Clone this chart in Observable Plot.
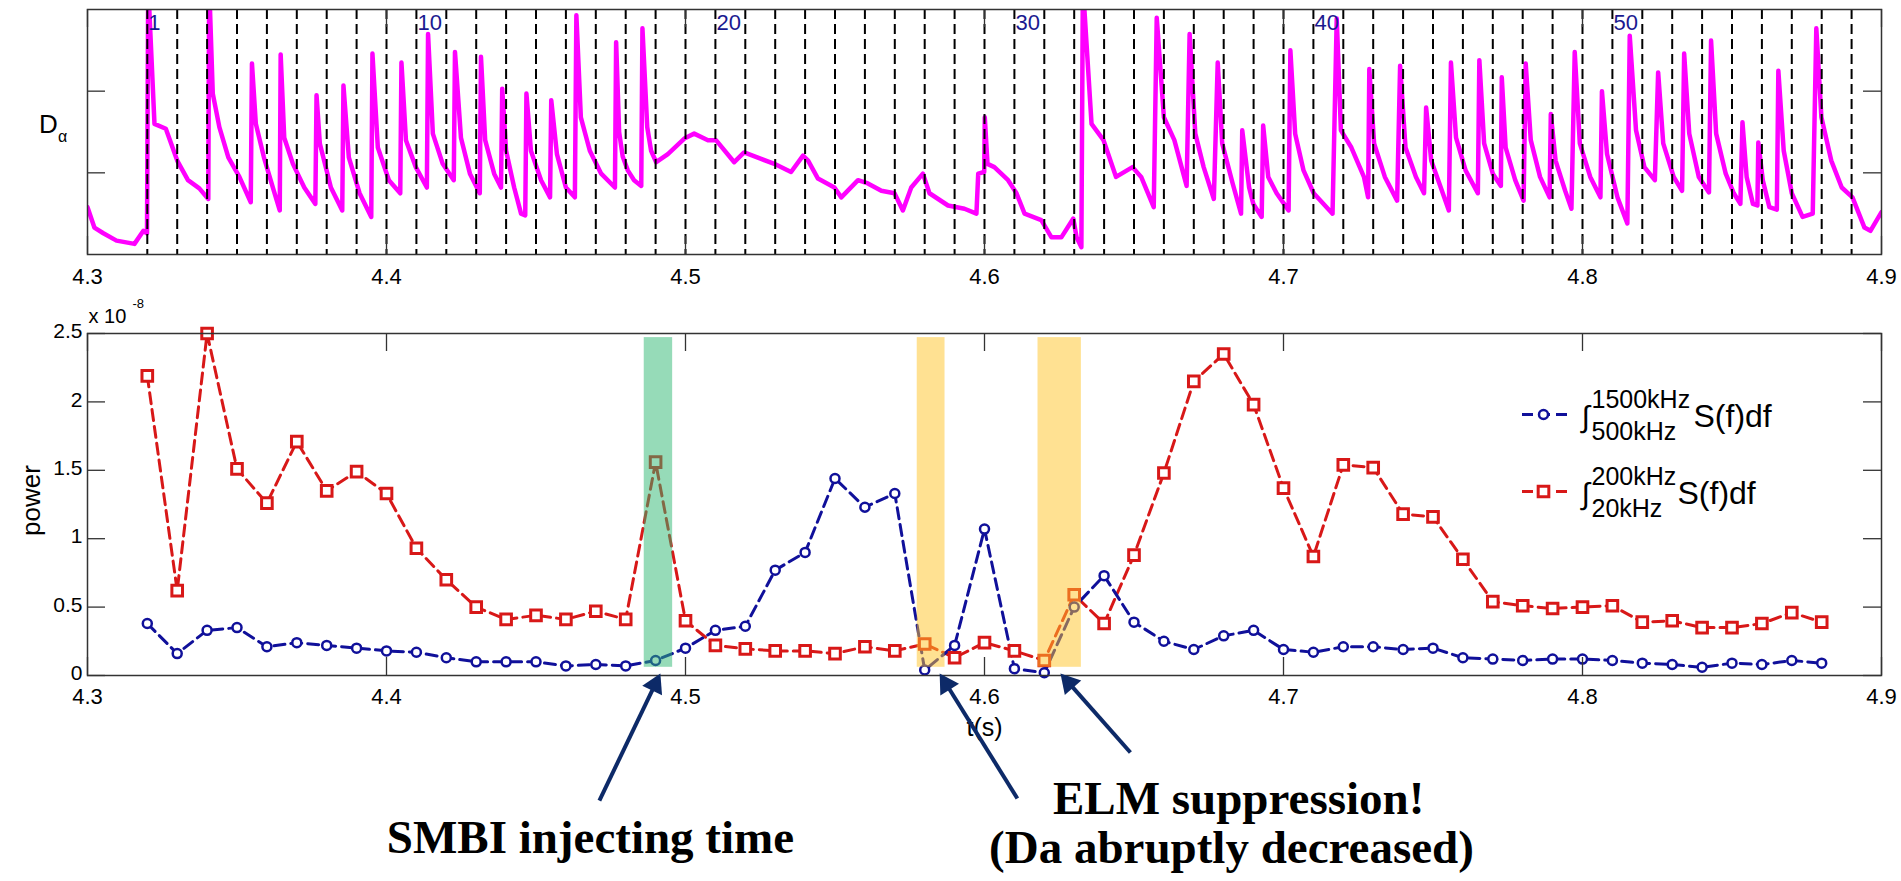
<!DOCTYPE html>
<html><head><meta charset="utf-8">
<script src="https://cdn.jsdelivr.net/npm/d3@7"></script>
<script src="https://cdn.jsdelivr.net/npm/@observablehq/plot@0.6"></script>
<style>
html,body{margin:0;padding:0;background:#fff;}
#chart{width:1901px;height:881px;overflow:hidden;background:#fff;}
#chart svg{display:block;}
</style></head><body><div id="chart"></div>
<script>
// ---------------- data ----------------
const xTicks = [4.3, 4.4, 4.5, 4.6, 4.7, 4.8, 4.9];
const daYTicks = [1, 2];
const powerYTicks = [0, 0.5, 1, 1.5, 2, 2.5];

// D-alpha trace (time s, arbitrary units)
const daT = [4.3000,4.3023,4.3053,4.3097,4.3157,4.3187,4.3199,4.3203,4.3224,4.3262,4.3300,4.3336,4.3374,4.3404,4.3407,4.3419,4.3441,4.3471,4.3508,4.3546,
4.3550,4.3563,4.3590,4.3620,4.3643,4.3646,4.3658,4.3687,4.3725,4.3762,4.3766,4.3777,4.3814,4.3852,4.3856,4.3874,4.3910,4.3949,4.3953,4.3971,
4.4008,4.4046,4.4050,4.4065,4.4098,4.4135,4.4139,4.4155,4.4188,4.4225,4.4229,4.4249,4.4279,4.4312,4.4316,4.4330,4.4360,4.4383,4.4387,4.4400,
4.4427,4.4450,4.4464,4.4468,4.4483,4.4517,4.4547,4.4551,4.4570,4.4600,4.4630,4.4635,4.4650,4.4680,4.4718,4.4764,4.4768,4.4778,4.4790,4.4807,
4.4828,4.4852,4.4856,4.4872,4.4885,4.4902,4.4941,4.4996,4.5029,4.5075,4.5102,4.5163,4.5196,4.5253,4.5297,4.5353,4.5393,4.5410,4.5443,4.5498,
4.5521,4.5577,4.5610,4.5655,4.5699,4.5727,4.5755,4.5794,4.5816,4.5878,4.5933,4.5973,4.5979,4.5999,4.6001,4.6010,4.6033,4.6079,4.6107,4.6134,
4.6190,4.6224,4.6257,4.6297,4.6308,4.6324,4.6329,4.6358,4.6398,4.6440,4.6495,4.6524,4.6566,4.6576,4.6600,4.6635,4.6676,4.6686,4.6705,4.6733,
4.6767,4.6780,4.6795,4.6830,4.6858,4.6862,4.6885,4.6899,4.6927,4.6932,4.6949,4.6977,4.7017,4.7023,4.7039,4.7067,4.7101,4.7164,4.7178,4.7192,
4.7227,4.7269,4.7283,4.7287,4.7303,4.7339,4.7380,4.7390,4.7408,4.7443,4.7470,4.7477,4.7494,4.7526,4.7553,4.7560,4.7577,4.7609,4.7650,4.7655,
4.7671,4.7700,4.7727,4.7730,4.7743,4.7775,4.7803,4.7810,4.7827,4.7858,4.7890,4.7894,4.7910,4.7942,4.7963,4.7974,4.7991,4.8026,4.8060,4.8065,
4.8082,4.8117,4.8150,4.8158,4.8179,4.8207,4.8242,4.8253,4.8270,4.8305,4.8333,4.8340,4.8357,4.8389,4.8423,4.8430,4.8447,4.8479,4.8506,4.8528,
4.8535,4.8549,4.8570,4.8585,4.8588,4.8603,4.8625,4.8650,4.8655,4.8673,4.8700,4.8736,4.8770,4.8782,4.8799,4.8832,4.8867,4.8903,4.8943,4.8963,
4.9000];
const daV = [0.58,0.33,0.26,0.17,0.13,0.29,0.26,3.30,1.60,1.54,1.15,0.91,0.81,0.68,3.30,1.97,1.56,1.19,0.95,0.64,
2.34,1.60,1.19,0.82,0.54,2.45,1.43,1.11,0.82,0.62,1.95,1.36,0.82,0.54,2.07,1.19,0.75,0.46,2.46,1.31,
0.91,0.75,2.35,1.40,1.07,0.82,2.70,1.48,1.11,0.91,2.48,1.43,0.99,0.75,2.42,1.40,0.99,0.82,2.03,1.27,
0.82,0.50,0.48,1.97,1.27,0.91,0.70,1.89,1.23,0.82,0.70,2.93,1.68,1.27,0.99,0.82,2.60,1.50,1.20,1.03,
0.91,0.84,2.77,1.56,1.27,1.13,1.23,1.42,1.48,1.40,1.40,1.13,1.25,1.17,1.11,1.01,1.21,1.15,0.93,0.82,
0.70,0.91,0.87,0.78,0.75,0.54,0.82,0.99,0.75,0.60,0.56,0.50,0.99,1.01,1.68,1.11,1.07,0.91,0.75,0.50,
0.42,0.21,0.21,0.44,0.21,0.09,3.30,1.60,1.40,0.95,1.07,0.95,0.58,2.90,1.68,1.40,0.84,2.70,1.48,1.07,
0.68,2.35,1.36,0.87,0.50,1.52,0.82,0.62,0.46,1.58,0.95,0.75,0.54,2.50,1.48,1.03,0.75,0.50,2.89,1.52,
1.31,0.95,0.70,2.27,1.36,0.95,0.66,2.31,1.31,0.95,0.75,1.80,1.15,0.82,0.54,2.35,1.43,1.03,0.75,2.38,
1.36,0.99,0.84,2.17,1.31,0.91,0.66,2.34,1.40,0.95,0.70,1.72,1.15,0.78,0.56,2.48,1.36,0.95,0.70,2.00,
1.23,0.70,0.38,2.68,1.52,1.07,0.91,2.23,1.36,0.95,0.78,2.46,1.48,0.95,0.76,2.62,1.48,0.99,0.75,0.62,
1.62,0.95,0.62,0.60,1.37,0.91,0.58,0.55,2.25,1.27,0.75,0.46,0.50,2.77,1.68,1.15,0.82,0.70,0.33,0.29,
0.52];

// ELM marker lines and their numbering
const elmLineT = [4.32,4.33,4.34,4.35,4.36,4.37,4.38,4.39,4.40,4.41,4.42,4.43,4.44,4.45,4.46,4.47,4.48,4.49,4.50,4.51,
4.52,4.53,4.54,4.55,4.56,4.57,4.58,4.59,4.60,4.61,4.62,4.63,4.64,4.65,4.66,4.67,4.68,4.69,4.70,4.71,
4.72,4.73,4.74,4.75,4.76,4.77,4.78,4.79,4.80,4.81,4.82,4.83,4.84,4.85,4.86,4.87,4.88,4.89];
const elmLabelN = [1, 10, 20, 30, 40, 50];
const elmLabelT = [4.32, 4.41, 4.51, 4.61, 4.71, 4.81];

// power spectra integrals (x 1e-8)
const powerT = [4.32,4.33,4.34,4.35,4.36,4.37,4.38,4.39,4.40,4.41,4.42,4.43,4.44,4.45,4.46,4.47,4.48,4.49,4.50,4.51,
4.52,4.53,4.54,4.55,4.56,4.57,4.58,4.59,4.60,4.61,4.62,4.63,4.64,4.65,4.66,4.67,4.68,4.69,4.70,4.71,
4.72,4.73,4.74,4.75,4.76,4.77,4.78,4.79,4.80,4.81,4.82,4.83,4.84,4.85,4.86,4.87,4.88];
const powerHigh = [0.38,0.16,0.33,0.35,0.21,0.24,0.22,0.20,0.18,0.17,0.13,0.10,0.10,0.10,0.07,0.08,0.07,0.11,0.20,0.33,
0.36,0.77,0.90,1.44,1.23,1.33,0.04,0.22,1.07,0.05,0.02,0.50,0.73,0.39,0.25,0.19,0.29,0.33,0.19,0.17,
0.21,0.21,0.19,0.20,0.13,0.12,0.11,0.12,0.12,0.11,0.09,0.08,0.06,0.09,0.08,0.11,0.09];
const powerLow = [2.19,0.62,2.50,1.51,1.26,1.71,1.35,1.49,1.33,0.93,0.70,0.50,0.41,0.44,0.41,0.47,0.41,1.56,0.40,0.22,
0.195,0.18,0.18,0.16,0.21,0.18,0.23,0.13,0.24,0.18,0.11,0.59,0.38,0.88,1.48,2.15,2.35,1.98,1.37,0.87,
1.54,1.52,1.18,1.16,0.85,0.54,0.51,0.49,0.50,0.51,0.39,0.40,0.35,0.35,0.38,0.46,0.39];

// highlighted time windows
const smbiSpan = [{t1: 4.4862, t2: 4.4957}];
const elmSpans = [{t1: 4.5775, t2: 4.5868}, {t1: 4.6179, t2: 4.6324}];
const spanV = [0.06, 2.47];

// legend
const legendSup = ["1500kHz", "200kHz"];
const legendSub = ["500kHz", "20kHz"];

// annotations (data space: time, power)
const arrowsData = [
  {t1: 4.4712, v1: -0.914, t2: 4.4916, v2: 0.015},
  {t1: 4.6110, v1: -0.899, t2: 4.5850, v2: 0.015},
  {t1: 4.6488, v1: -0.563, t2: 4.6254, v2: 0.015}
];
const notes = [
  {t: 4.4682, v: -1.301, label: "SMBI injecting time"},
  {t: 4.6850, v: -1.009, label: "ELM suppression!"},
  {t: 4.6826, v: -1.374, label: "(Da abruptly decreased)"}
];

// ---------------- build ----------------
const W = 1901, ML = 87, MR = 20;
const SANS = "'Liberation Sans', Arial, Helvetica, sans-serif";
const SERIF = "'Liberation Serif', 'Times New Roman', serif";
const MAG = "#ff00ff", BLUE = "#10109a", RED = "#d81818", NAVY = "#0d2a68", NUMC = "#1a1a90";
const FRAME = "#333";
const TICK = 18;
const fmt = d => String(d);

const da = daT.map((t, i) => ({t, v: daV[i]}));
const high = powerT.map((t, i) => ({t, v: powerHigh[i]}));
const low = powerT.map((t, i) => ({t, v: powerLow[i]}));
const elmLabels = elmLabelN.map((n, i) => ({n: String(n), t: elmLabelT[i]}));

function inwardTicks(xVals, yVals, yDom, frameH) {
  const ky = (yDom[1] - yDom[0]) / frameH * TICK;
  const kx = 0.6 / (W - ML - MR) * TICK;
  const o = {stroke: FRAME, strokeWidth: 1.3};
  return [
    Plot.ruleX(xVals, {...o, y1: yDom[0], y2: yDom[0] + ky}),
    Plot.ruleX(xVals, {...o, y1: yDom[1], y2: yDom[1] - ky}),
    Plot.ruleY(yVals, {...o, x1: 4.3, x2: 4.3 + kx}),
    Plot.ruleY(yVals, {...o, x1: 4.9, x2: 4.9 - kx})
  ];
}

// top panel
const H1 = 290, MT1 = 9, MB1 = 36;
const topPlot = Plot.plot({
  width: W, height: H1, marginLeft: ML, marginRight: MR, marginTop: MT1, marginBottom: MB1,
  style: {fontFamily: SANS, fontSize: "21px", background: "transparent", color: "#000"},
  x: {domain: [4.3, 4.9], label: null},
  y: {domain: [0, 3], label: null, axis: null},
  marks: [
    Plot.line(da, {x: "t", y: "v", stroke: MAG, strokeWidth: 4.5, strokeLinejoin: "round", clip: true}),
    Plot.ruleX(elmLineT, {stroke: "#000", strokeWidth: 2, strokeDasharray: "10,5"}),
    Plot.text(elmLabels, {x: "t", text: "n", frameAnchor: "top", lineAnchor: "middle", dy: 13, dx: 1,
      textAnchor: "start", fill: NUMC, fontSize: 22}),
    ...inwardTicks(xTicks, daYTicks, [0, 3], H1 - MT1 - MB1),
    Plot.axisX(xTicks, {tickSize: 0, tickPadding: 14, fontSize: 22, tickFormat: fmt}),
    Plot.frame({stroke: FRAME, strokeWidth: 1.5}),
    Plot.text(["D"], {frameAnchor: "left", dx: -39, dy: -7, fontSize: 26, textAnchor: "middle"}),
    Plot.text(["α"], {frameAnchor: "left", dx: -25, dy: 5, fontSize: 16, textAnchor: "middle"})
  ]
});

// bottom panel
const H2 = 591, MT2 = 43, MB2 = 206;
const xs = d3.scaleLinear([4.3, 4.9], [ML, W - MR]);
const ys = d3.scaleLinear([0, 2.5], [H2 - MB2, MT2]);

// arrows: shaft + filled head, computed from data-space endpoints
const HEAD = 19;
const shafts = [], heads = [];
for (const a of arrowsData) {
  const x1 = xs(a.t1), y1 = ys(a.v1), x2 = xs(a.t2), y2 = ys(a.v2);
  const L = Math.hypot(x2 - x1, y2 - y1), ux = (x2 - x1) / L, uy = (y2 - y1) / L;
  shafts.push({t1: a.t1, v1: a.v1, t2: xs.invert(x2 - ux * HEAD * 0.7), v2: ys.invert(y2 - uy * HEAD * 0.7)});
  heads.push({t: xs.invert(x2 - ux * HEAD * 2 / 3), v: ys.invert(y2 - uy * HEAD * 2 / 3),
    angle: Math.atan2(ux, -uy) * 180 / Math.PI});
}
const headR = Math.sqrt(3 * Math.sqrt(3) * (HEAD / 3) ** 2 / Math.PI);

// legend geometry (pixels relative to frame's top-left)
const legRows = [81, 158];
const legColors = [BLUE, RED];
const legSymbols = ["circle", "square"];
const legSX = [1606, 1590];
const legendMarks = [];
legRows.forEach((ry, i) => {
  const vy = ys.invert(MT2 + ry);
  legendMarks.push(
    Plot.ruleY([vy], {x1: xs.invert(1522), x2: xs.invert(1567), stroke: legColors[i], strokeWidth: 3, strokeDasharray: "11,6"}),
    Plot.dot([0], {frameAnchor: "top-left", dx: 1456, dy: ry, symbol: legSymbols[i], r: i ? 6 : 4.5,
      stroke: legColors[i], strokeWidth: i ? 3 : 2.5, fill: "white"}),
    Plot.text(["∫"], {frameAnchor: "top-left", dx: 1498, dy: ry + 3, lineAnchor: "middle", textAnchor: "middle", fontSize: 30, fontFamily: "'DejaVu Sans', sans-serif", fontWeight: 200}),
    Plot.text([legendSup[i]], {frameAnchor: "top-left", dx: 1504, dy: ry - 7, lineAnchor: "bottom", textAnchor: "start", fontSize: 25}),
    Plot.text([legendSub[i]], {frameAnchor: "top-left", dx: 1504, dy: ry + 25, lineAnchor: "bottom", textAnchor: "start", fontSize: 25}),
    Plot.text(["S(f)df"], {frameAnchor: "top-left", dx: legSX[i], dy: ry + 12, lineAnchor: "bottom", textAnchor: "start", fontSize: 32})
  );
});

const bottomPlot = Plot.plot({
  width: W, height: H2, marginLeft: ML, marginRight: MR, marginTop: MT2, marginBottom: MB2,
  style: {fontFamily: SANS, fontSize: "21px", background: "transparent", color: "#000"},
  x: {domain: [4.3, 4.9], label: null},
  y: {domain: [0, 2.5], label: null, axis: null},
  marks: [
    Plot.line(low, {x: "t", y: "v", stroke: RED, strokeWidth: 3, strokeDasharray: "11,6"}),
    Plot.line(high, {x: "t", y: "v", stroke: BLUE, strokeWidth: 3, strokeDasharray: "11,6"}),
    Plot.dot(low, {x: "t", y: "v", symbol: "square", r: 6, stroke: RED, strokeWidth: 3, fill: "white"}),
    Plot.dot(high, {x: "t", y: "v", symbol: "circle", r: 4.5, stroke: BLUE, strokeWidth: 2.5, fill: "white"}),
    Plot.rect(smbiSpan, {x1: "t1", x2: "t2", y1: spanV[0], y2: spanV[1], fill: "#2db872", fillOpacity: 0.5}),
    Plot.rect(elmSpans, {x1: "t1", x2: "t2", y1: spanV[0], y2: spanV[1], fill: "#ffc425", fillOpacity: 0.5}),
    ...inwardTicks(xTicks, powerYTicks, [0, 2.5], H2 - MT2 - MB2),
    Plot.axisX(xTicks, {tickSize: 0, tickPadding: 13, fontSize: 22, tickFormat: fmt}),
    Plot.axisY(powerYTicks, {anchor: "left", tickSize: 0, tickPadding: 5, dy: -2, fontSize: 21, tickFormat: fmt}),
    Plot.frame({stroke: FRAME, strokeWidth: 1.5}),
    Plot.text(["x 10"], {frameAnchor: "top-left", dx: 1, dy: -11, lineAnchor: "bottom", textAnchor: "start", fontSize: 20}),
    Plot.text(["-8"], {frameAnchor: "top-left", dx: 45, dy: -26, lineAnchor: "bottom", textAnchor: "start", fontSize: 13}),
    Plot.text(["power"], {frameAnchor: "left", dx: -56, dy: -4, rotate: -90, fontSize: 26, textAnchor: "middle", lineAnchor: "middle"}),
    Plot.text(["t(s)"], {frameAnchor: "bottom", dy: 52, lineAnchor: "middle", fontSize: 25}),
    ...legendMarks,
    Plot.link(shafts, {x1: "t1", y1: "v1", x2: "t2", y2: "v2", stroke: NAVY, strokeWidth: 4}),
    Plot.dot(heads, {x: "t", y: "v", symbol: "triangle", r: headR, fill: NAVY, stroke: "none", rotate: "angle"}),
    Plot.text(notes, {x: "t", y: "v", text: "label", fontFamily: SERIF, fontWeight: "bold", fontSize: 47,
      lineAnchor: "bottom", textAnchor: "middle", fill: "#000"})
  ]
});

const root = document.getElementById("chart");
root.appendChild(topPlot);
root.appendChild(bottomPlot);
</script>
</body></html>
